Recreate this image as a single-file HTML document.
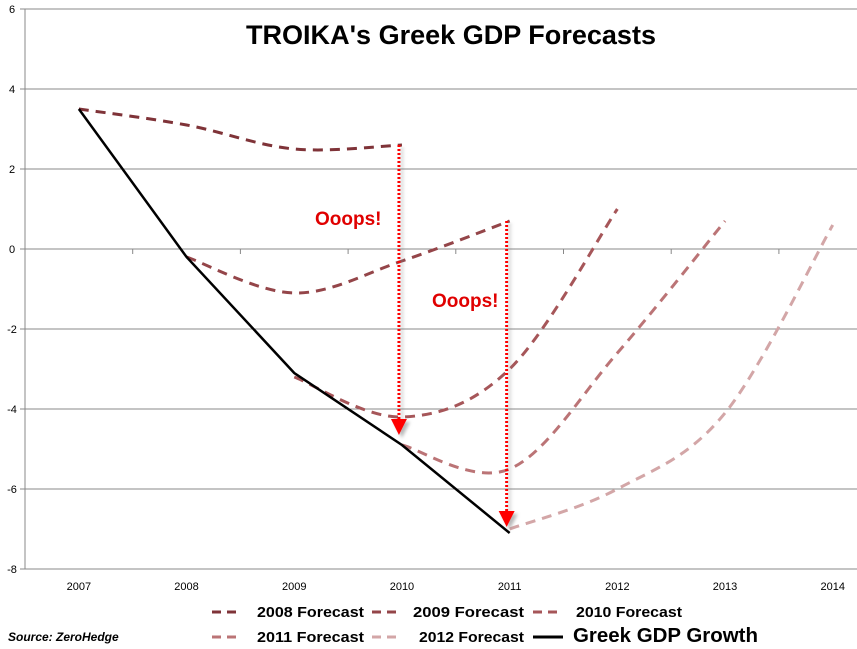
<!DOCTYPE html>
<html><head><meta charset="utf-8"><style>
body{margin:0;background:#fff;font-family:"Liberation Sans",sans-serif}
svg{display:block}
</style></head><body>
<svg id="chart" width="857" height="649" viewBox="0 0 857 649" xmlns="http://www.w3.org/2000/svg">
<defs><filter id="sh" x="-50%" y="-50%" width="200%" height="200%"><feDropShadow dx="3" dy="3" stdDeviation="1.5" flood-color="#888" flood-opacity="0.6"/></filter></defs>
<g id="grid"></g>
<g id="series"></g>
<g id="annot"></g>
<text x="451" y="44" text-anchor="middle" font-size="27" font-weight="bold" fill="#000" textLength="410" lengthAdjust="spacingAndGlyphs">TROIKA's Greek GDP Forecasts</text>
<g id="legend"></g>
<text x="8" y="641" font-size="12" font-style="italic" font-weight="bold" fill="#000">Source: ZeroHedge</text>
</svg>
<script>
const categories=["2007","2008","2009","2010","2011","2012","2013","2014"];
const yTicks=[6,4,2,0,-2,-4,-6,-8];
const actual=[3.5,-0.2,-3.1,-4.9,-7.1,null,null,null];
const f2008=[3.5,3.1,2.5,2.6,null,null,null,null];
const f2009=[null,-0.2,-1.1,-0.3,0.7,null,null,null];
const f2010=[null,null,-3.2,-4.2,-3.0,1.0,null,null];
const f2011=[null,null,null,-4.9,-5.5,-2.6,0.7,null];
const f2012=[null,null,null,null,-7.0,-6.0,-4.1,0.6];
const seriesNames=["2008 Forecast","2009 Forecast","2010 Forecast","2011 Forecast","2012 Forecast","Greek GDP Growth"];
const NS="http://www.w3.org/2000/svg";
const X0=25,CW=107.7,Y0=249,PU=40;
const xs=i=>X0+CW*(i+0.5);
const ys=v=>Y0-v*PU;
function mk(t,a,p){const e=document.createElementNS(NS,t);for(const k in a)e.setAttribute(k,a[k]);p.appendChild(e);return e;}
const grid=document.getElementById('grid');
yTicks.forEach(v=>{
  const l=mk('line',{x1:X0,x2:857,y1:ys(v),y2:ys(v),stroke:'#888','stroke-width':1},grid);
  
  
  mk('line',{x1:X0-5,x2:X0,y1:ys(v),y2:ys(v),stroke:'#888'},grid);
  const t=mk('text',{x:12,y:ys(v)+4,'text-anchor':'middle','font-size':11,fill:'#000'},grid);
  t.textContent=v;
  
  
});
mk('line',{x1:X0,x2:X0,y1:ys(6),y2:ys(-8),stroke:'#888'},grid);
categories.forEach((c,i)=>{
  if(i>0)mk('line',{x1:X0+CW*i,x2:X0+CW*i,y1:Y0,y2:Y0+5,stroke:'#888'},grid);
  const t=mk('text',{x:xs(i),y:590,'text-anchor':'middle','font-size':11,fill:'#000'},grid);
  t.textContent=c;
  
  
});
function pts(arr){const p=[];arr.forEach((v,i)=>{if(v!==null)p.push([xs(i),ys(v)]);});return p;}
function smooth(p){let d=`M${p[0][0]},${p[0][1]}`;for(let i=0;i<p.length-1;i++){const p0=p[i-1]||p[i],p1=p[i],p2=p[i+1],p3=p[i+2]||p2;const t=0.17;
d+=` C${p1[0]+(p2[0]-p0[0])*t},${p1[1]+(p2[1]-p0[1])*t} ${p2[0]-(p3[0]-p1[0])*t},${p2[1]-(p3[1]-p1[1])*t} ${p2[0]},${p2[1]}`;}return d;}
const ser=document.getElementById('series');
const fc=[[f2008,'#7f3338'],[f2009,'#944549'],[f2010,'#a65659'],[f2011,'#bb7476'],[f2012,'#d3a6a7']];
fc.forEach(([a,col],k)=>{
  const p=mk('path',{d:smooth(pts(a)),fill:'none',stroke:col,'stroke-width':3,'stroke-dasharray':'10,7'},ser);
  
  
});
const al=mk('path',{d:'M'+pts(actual).map(q=>q.join(',')).join(' L'),fill:'none',stroke:'#000','stroke-width':2.5},ser);


const an=document.getElementById('annot');
[[3,2.6,-4.6,'Ooops!',315,225],[4,0.7,-6.9,'Ooops!',432,307]].forEach(([i,a,b,txt,tx,ty])=>{
  const x=xs(i)-3;const g=mk('g',{filter:'url(#sh)'},an);
  
  
  mk('line',{x1:x,x2:x,y1:ys(a),y2:ys(b)-12,stroke:'#f00','stroke-width':3,'stroke-dasharray':'2,2'},g);
  mk('polygon',{points:`${x-8},${ys(b)-14} ${x+8},${ys(b)-14} ${x},${ys(b)+2}`,fill:'#f00'},g);
  const t=mk('text',{x:tx,y:ty,'font-size':19,'font-weight':'bold',fill:'#e00000'},an);
  t.textContent=txt;
  
  
});
const lg=document.getElementById('legend');
const lcols=['#7f3338','#944549','#a65659','#bb7476','#d3a6a7','#000'];
const lpos=[[212,617,257,107],[372,617,413,111],[533,617,576,106],[212,642,257,107],[372,642,419,105],[533,642,573,185]];
seriesNames.forEach((n,k)=>{
  const [x,y,tx,tw]=lpos[k];const g=mk('g',{},lg);
  
  
  mk('line',{x1:x,x2:x+30,y1:y-5,y2:y-5,stroke:lcols[k],'stroke-width':3,'stroke-dasharray':k<5?'9,6':'none'},g);
  const t=mk('text',{x:tx,y:y,'font-size':k<5?15:20,'font-weight':'bold',fill:'#000',textLength:tw,lengthAdjust:'spacingAndGlyphs'},g);
  t.textContent=n;
});
</script>
</body></html>
